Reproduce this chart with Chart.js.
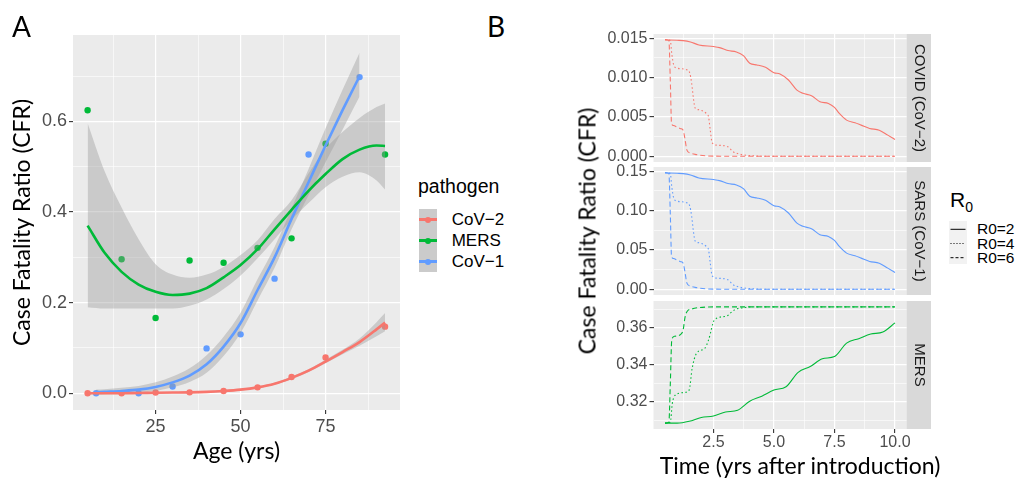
<!DOCTYPE html>
<html lang="en">
<head>
<meta charset="UTF-8" />
<title>Case fatality ratio by age and over time</title>
<script src="https://cdn.jsdelivr.net/npm/chart.js"></script>
<style>
  body { margin: 0; background: #fff; }
  #wrap { position: relative; width: 1020px; height: 484px; overflow: hidden;
          font-family: "Liberation Sans", Arial, sans-serif; }
  canvas { position: absolute; }
  .txt { position: absolute; white-space: nowrap; line-height: 1; color: #000; }
  .ttl { font-family: Lato, sans-serif; font-size: 23px; transform: translate(-50%, -50%); }
  .box { position: absolute; }
</style>
</head>
<body>
<div id="wrap">
  <canvas id="chartA" width="410" height="484" style="left:0;top:0"></canvas>
  <canvas id="chartB1" width="380" height="484" style="left:560px;top:0"></canvas>
  <canvas id="chartB2" width="380" height="484" style="left:560px;top:0"></canvas>
  <canvas id="chartB3" width="380" height="484" style="left:560px;top:0"></canvas>

  <div class="txt" style="left:12px;top:12px;font-family:Lato,sans-serif;font-size:28px">A</div>
  <div class="txt" style="left:487px;top:12px;font-family:Lato,sans-serif;font-size:28px">B</div>

  <!-- pathogen legend -->
  <div class="txt" style="left:418px;top:176.5px;font-size:19.5px">pathogen</div>
  <div class="box" style="left:419px;top:209px;width:18px;height:63px;background:#CBCBCB"></div>
  <div id="keysA"></div>

  <!-- R0 legend -->
  <div class="txt" style="left:950px;top:188.5px;font-size:21px">R<span style="font-size:14px;position:relative;top:5px">0</span></div>
  <div class="box" style="left:949px;top:220.5px;width:18px;height:43px;background:#F2F2F2"></div>
  <svg class="box" width="18" height="43" style="left:949px;top:220.5px">
    <line x1="1.5" x2="16.5" y1="8.3" y2="8.3" stroke="#000" stroke-width="1" />
    <line x1="1.5" x2="16.5" y1="22.5" y2="22.5" stroke="#000" stroke-width="1" stroke-dasharray="1 2" />
    <line x1="1.5" x2="16.5" y1="36.7" y2="36.7" stroke="#000" stroke-width="1" stroke-dasharray="3 2" />
  </svg>
  <div class="txt" style="left:977px;top:221.2px;font-size:15.5px">R0=2</div>
  <div class="txt" style="left:977px;top:235.5px;font-size:15.5px">R0=4</div>
  <div class="txt" style="left:977px;top:249.5px;font-size:15.5px">R0=6</div>

  <!-- shared titles of panel B -->
  <div class="txt ttl" style="left:587px;top:231.3px;transform:translate(-50%,-50%) rotate(-90deg)">Case Fatality Ratio (CFR)</div>
  <div class="txt ttl" style="left:800px;top:465px">Time (yrs after introduction)</div>
</div>

<script>
  // ---- Panel A: CFR by age ----
  const ageGroups = [5, 15, 25, 35, 45, 55, 65, 75, 92.5];
  const cfrCov2 = [0, 0, 0.0015, 0.002, 0.005, 0.013, 0.036, 0.079, 0.147];
  const cfrMers = [0.625, 0.296, 0.166, 0.293, 0.288, 0.321, 0.342, 0.551, 0.527];
  const ageGroupsCov1 = [7.5, 20, 30, 40, 50, 60, 70, 85];
  const cfrCov1 = [0, 0, 0.015, 0.099, 0.13, 0.253, 0.527, 0.698];

  // smoothed fits with their confidence bands
  const fitAge = [5, 10, 15, 20, 25, 30, 35, 40, 45, 50, 55, 60, 65, 70, 75, 80, 85, 90, 92.5];
  const fitCov2 = [0, 0, 0, 0.0005, 0.001, 0.0015, 0.002, 0.003, 0.005, 0.008, 0.013, 0.021, 0.034, 0.05, 0.07, 0.091, 0.113, 0.141, 0.156];
  const fitCov2Hi = [0.002, 0.002, 0.002, 0.002, 0.003, 0.003, 0.004, 0.005, 0.007, 0.01, 0.015, 0.023, 0.037, 0.053, 0.074, 0.096, 0.121, 0.157, 0.177];
  const fitCov2Lo = [-0.002, -0.002, -0.002, -0.001, -0.001, 0, 0, 0.001, 0.003, 0.006, 0.011, 0.019, 0.031, 0.047, 0.066, 0.086, 0.105, 0.126, 0.137];
  const fitMers = [0.37, 0.31, 0.268, 0.24, 0.224, 0.217, 0.22, 0.232, 0.256, 0.283, 0.318, 0.362, 0.405, 0.447, 0.484, 0.517, 0.538, 0.547, 0.546];
  const fitMersHi = [0.596, 0.49, 0.41, 0.34, 0.285, 0.262, 0.255, 0.262, 0.279, 0.305, 0.338, 0.385, 0.426, 0.485, 0.54, 0.577, 0.608, 0.632, 0.64];
  const fitMersLo = [0.19, 0.187, 0.187, 0.187, 0.187, 0.187, 0.193, 0.207, 0.23, 0.26, 0.298, 0.34, 0.383, 0.42, 0.455, 0.478, 0.488, 0.47, 0.45];
  const fitAgeCov1 = [7.5, 10, 15, 20, 25, 30, 35, 40, 45, 50, 55, 60, 65, 70, 75, 80, 85];
  const fitCov1 = [0.002, 0.003, 0.005, 0.008, 0.014, 0.024, 0.039, 0.064, 0.103, 0.155, 0.228, 0.3, 0.385, 0.466, 0.547, 0.625, 0.7];
  const fitCov1Hi = [0.008, 0.009, 0.012, 0.016, 0.024, 0.037, 0.055, 0.084, 0.125, 0.178, 0.252, 0.323, 0.408, 0.495, 0.585, 0.67, 0.752];
  const fitCov1Lo = [-0.003, -0.002, -0.001, 0.001, 0.005, 0.013, 0.025, 0.045, 0.082, 0.133, 0.205, 0.277, 0.362, 0.437, 0.51, 0.582, 0.655];

  const ageTicks = [12.5, 25, 37.5, 50, 62.5, 75, 87.5];
  const ageLabels = ['', '25', '', '50', '', '75', ''];
  const cfrTicksA = [0, 0.1, 0.2, 0.3, 0.4, 0.5, 0.6, 0.7];
  const cfrLabelsA = ['0.0', '', '0.2', '', '0.4', '', '0.6', ''];

  const pathogens = ['CoV\u22122', 'MERS', 'CoV\u22121'];
  const pathogenColors = ['#F8766D', '#00BA38', '#619CFF'];

  // ---- Panel B: CFR over time, by R0 ----
  const tR2 = [0.5, 1.0, 1.25, 1.55, 1.9, 2.5, 2.75, 3.1, 3.45, 3.75, 4.0, 4.3, 4.65, 5.0, 5.25, 5.6, 5.95, 6.2, 6.55, 6.9, 7.25, 7.5, 7.7, 8.0, 8.35, 8.6, 8.95, 9.35, 9.7, 10.0];
  const covidR2 = [0.0148, 0.01474, 0.0147, 0.01453, 0.01415, 0.01394, 0.01381, 0.01343, 0.01326, 0.01275, 0.01181, 0.0116, 0.0113, 0.01062, 0.01045, 0.00969, 0.00841, 0.00799, 0.00769, 0.00693, 0.00671, 0.0062, 0.00544, 0.00459, 0.00425, 0.00395, 0.00353, 0.00331, 0.00268, 0.00212];
  const sarsR2 = [0.148, 0.1474, 0.147, 0.1453, 0.1415, 0.1394, 0.1381, 0.1343, 0.1326, 0.1275, 0.1181, 0.116, 0.113, 0.1062, 0.1045, 0.0969, 0.0841, 0.0799, 0.0769, 0.0693, 0.0671, 0.062, 0.0544, 0.0459, 0.0425, 0.0395, 0.0353, 0.0331, 0.0268, 0.0212];
  const tMersR2 = [0.5, 1.0, 1.5, 2.0, 2.5, 3.0, 3.5, 4.0, 4.5, 5.0, 5.5, 6.0, 6.5, 7.0, 7.5, 8.0, 8.5, 9.0, 9.5, 10.0];
  const mersR2 = [0.3085, 0.3085, 0.3095, 0.3116, 0.3124, 0.3145, 0.3155, 0.3204, 0.3231, 0.3264, 0.3282, 0.336, 0.3391, 0.3433, 0.3445, 0.3518, 0.3542, 0.3567, 0.3578, 0.3627];

  const tR4 = [0.5, 0.72, 0.78, 0.86, 1.0, 1.4, 1.52, 1.6, 1.68, 1.75, 1.9, 2.22, 2.3, 2.37, 2.45, 2.65, 3.1, 3.3, 3.6, 4.0, 4.5, 10.0];
  const covidR4 = [0.0148, 0.0147, 0.013, 0.0116, 0.0112, 0.011, 0.0106, 0.0093, 0.0072, 0.0061, 0.0059, 0.0054, 0.005, 0.0033, 0.0017, 0.0014, 0.0012, 0.0006, 0.00025, 0.00008, 0, 0];
  const sarsR4 = [0.148, 0.147, 0.13, 0.116, 0.112, 0.11, 0.106, 0.093, 0.072, 0.061, 0.059, 0.054, 0.05, 0.033, 0.017, 0.014, 0.012, 0.006, 0.0025, 0.0008, 0, 0];
  const tMersR4 = [0.5, 0.72, 0.8, 0.92, 1.3, 1.5, 1.62, 1.8, 2.15, 2.3, 2.55, 3.05, 3.2, 3.4, 3.75, 4.1, 10.0];
  const mersR4 = [0.3085, 0.309, 0.319, 0.3236, 0.3251, 0.3265, 0.338, 0.3462, 0.3491, 0.3535, 0.3645, 0.3664, 0.368, 0.37, 0.3709, 0.3714, 0.3714];

  const tR6 = [0.5, 0.66, 0.72, 0.77, 0.85, 1.0, 1.15, 1.25, 1.33, 1.4, 1.54, 1.8, 2.2, 3.0, 10.0];
  const covidR6 = [0.0148, 0.0147, 0.0095, 0.0042, 0.0039, 0.0037, 0.0035, 0.0033, 0.0021, 0.0008, 0.0004, 0.0002, 0.00004, 0, 0];
  const sarsR6 = [0.148, 0.147, 0.095, 0.042, 0.039, 0.037, 0.035, 0.033, 0.021, 0.008, 0.004, 0.002, 0.0004, 0, 0];
  const tMersR6 = [0.5, 0.66, 0.72, 0.78, 0.9, 1.15, 1.25, 1.33, 1.42, 1.6, 1.9, 2.3, 3.0, 10.0];
  const mersR6 = [0.3085, 0.309, 0.33, 0.3536, 0.3555, 0.3565, 0.359, 0.366, 0.369, 0.3702, 0.371, 0.3713, 0.3714, 0.3714];

  const timeTicks = [1.25, 2.5, 3.75, 5, 6.25, 7.5, 8.75, 10];
  const timeLabels = ['', '2.5', '', '5.0', '', '7.5', '', '10.0'];
  const covidTicks = [0, 0.0025, 0.005, 0.0075, 0.01, 0.0125, 0.015];
  const covidLabels = ['0.000', '', '0.005', '', '0.010', '', '0.015'];
  const sarsTicks = [0, 0.025, 0.05, 0.075, 0.1, 0.125, 0.15];
  const sarsLabels = ['0.00', '', '0.05', '', '0.10', '', '0.15'];
  const mersTicks = [0.31, 0.32, 0.33, 0.34, 0.35, 0.36, 0.37];
  const mersLabels = ['', '0.32', '', '0.34', '', '0.36', ''];

  Chart.defaults.font.family = '"Liberation Sans", Arial, sans-serif';
  Chart.defaults.color = '#4D4D4D';

  const pts = (xs, ys) => xs.map((x, i) => ({ x: x, y: ys[i] }));

  // grey panel + strip backgrounds, like ggplot's theme_grey
  const panelBg = {
    id: 'panelBg',
    beforeDraw(chart) {
      const { ctx, chartArea: a } = chart;
      ctx.save();
      ctx.fillStyle = '#EBEBEB';
      ctx.fillRect(a.left, a.top, a.right - a.left, a.bottom - a.top);
      const s = chart.scales.strip;
      if (s) {
        ctx.fillStyle = '#D9D9D9';
        ctx.fillRect(s.left, a.top, s.right - s.left, a.bottom - a.top);
      }
      ctx.restore();
    }
  };

  // axis with major + minor white grid lines
  function axis(vals, labels, fontSize, extra) {
    return Object.assign({
      type: 'linear',
      afterBuildTicks: (s) => { s.ticks = vals.map((v) => ({ value: v })); },
      border: { display: false },
      grid: {
        color: '#FFFFFF',
        lineWidth: (c) => (labels[c.index] ? 1.2 : 0.6),
        tickColor: (c) => (labels[c.index] ? '#333333' : 'rgba(0,0,0,0)'),
        tickLength: 4,
        tickWidth: 1.1
      },
      ticks: {
        autoSkip: false,
        maxRotation: 0,
        padding: 2,
        color: '#4D4D4D',
        font: { size: fontSize },
        callback: (v, i) => labels[i]
      }
    }, extra);
  }

  // ---- chart A ----
  const dsA = [];
  const bandFill = 'rgba(153,153,153,0.4)';
  // points first (drawn underneath)
  [[ageGroups, cfrCov2], [ageGroups, cfrMers], [ageGroupsCov1, cfrCov1]].forEach((d, k) => {
    dsA.push({ label: pathogens[k], data: pts(d[0], d[1]), showLine: false, pointRadius: 3.2,
      pointBackgroundColor: pathogenColors[k], pointBorderWidth: 0, order: 3 });
  });
  // confidence bands
  [[fitAge, fitCov2Hi, fitCov2Lo], [fitAge, fitMersHi, fitMersLo], [fitAgeCov1, fitCov1Hi, fitCov1Lo]].forEach((d) => {
    dsA.push({ data: pts(d[0], d[1]), fill: '+1', backgroundColor: bandFill, borderWidth: 0,
      borderColor: 'rgba(0,0,0,0)', pointRadius: 0, cubicInterpolationMode: 'monotone', order: 2 });
    dsA.push({ data: pts(d[0], d[2]), fill: false, borderWidth: 0,
      borderColor: 'rgba(0,0,0,0)', pointRadius: 0, cubicInterpolationMode: 'monotone', order: 2 });
  });
  // fitted lines
  [[fitAge, fitCov2], [fitAge, fitMers], [fitAgeCov1, fitCov1]].forEach((d, k) => {
    dsA.push({ data: pts(d[0], d[1]), borderColor: pathogenColors[k], borderWidth: 2.6,
      pointRadius: 0, fill: false, cubicInterpolationMode: 'monotone', order: 1 });
  });

  new Chart(document.getElementById('chartA'), {
    type: 'line',
    data: { datasets: dsA },
    options: {
      responsive: false,
      animation: false,
      layout: { padding: { top: 35, right: 10, bottom: 0, left: 0 } },
      plugins: { legend: { display: false }, tooltip: { enabled: false } },
      scales: {
        x: axis(ageTicks, ageLabels, 18, {
          min: 0.7, max: 96.9,
          afterFit: (s) => { s.height = 74; },
          title: { display: true, text: 'Age (yrs)', color: '#000',
            font: { family: 'Lato', size: 23 }, padding: { top: 0, bottom: 18.4 } }
        }),
        y: axis(cfrTicksA, cfrLabelsA, 18, {
          min: -0.037, max: 0.791,
          afterFit: (s) => { s.width = 73; },
          title: { display: true, text: 'Case Fatality Ratio (CFR)', color: '#000',
            font: { family: 'Lato', size: 23 }, padding: { top: 8.5, bottom: 0 } }
        })
      }
    },
    plugins: [panelBg]
  });

  // pathogen legend keys
  const keyCenters = [219.5, 240.5, 261.5];
  const keysA = document.getElementById('keysA');
  pathogens.forEach((name, k) => {
    const cy = keyCenters[k];
    keysA.insertAdjacentHTML('beforeend',
      '<div class="box" style="left:419px;top:' + (cy - 1.3) + 'px;width:18px;height:2.6px;background:' + pathogenColors[k] + '"></div>' +
      '<div class="box" style="left:425px;top:' + (cy - 3) + 'px;width:6px;height:6px;border-radius:50%;background:' + pathogenColors[k] + '"></div>' +
      '<div class="txt" style="left:451.7px;top:' + (cy - 8.3) + 'px;font-size:17px">' + name + '</div>');
  });

  // ---- chart B facets ----
  function facet(id, padTop, padBottom, color, series, yVals, yLabels, yMin, yMax, stripText, showX) {
    const dashes = [[], [1.5, 2.5], [5, 3]];
    const datasets = series.map((s, k) => ({
      data: pts(s[0], s[1]), borderColor: color, borderWidth: 1.1, borderDash: dashes[k],
      pointRadius: 0, fill: false, cubicInterpolationMode: 'monotone'
    }));
    const xAxis = axis(timeTicks, timeLabels, 16, {
      min: 0.025, max: 10.475,
      afterFit: (s) => { s.height = showX ? 55 : 0; }
    });
    if (!showX) {
      xAxis.ticks.display = false;
      xAxis.grid.drawTicks = false;
    } else {
      xAxis.ticks.padding = 0;
    }
    new Chart(document.getElementById(id), {
      type: 'line',
      data: { datasets: datasets },
      options: {
        responsive: false,
        animation: false,
        layout: { padding: { top: padTop, right: 9, bottom: padBottom, left: 0 } },
        plugins: { legend: { display: false }, tooltip: { enabled: false } },
        scales: {
          x: xAxis,
          y: axis(yVals, yLabels, 16, {
            min: yMin, max: yMax,
            afterFit: (s) => { s.width = 93.5; }
          }),
          strip: {
            type: 'linear', position: 'right', min: 0, max: 1,
            grid: { display: false }, border: { display: false },
            ticks: { display: false },
            afterFit: (s) => { s.width = 24.5; },
            title: { display: true, text: stripText, color: '#1A1A1A',
              font: { size: 15 }, padding: { top: 3.3, bottom: 0 } }
          }
        }
      },
      plugins: [panelBg]
    });
  }

  facet('chartB1', 34, 322, pathogenColors[0],
    [[tR2, covidR2], [tR4, covidR4], [tR6, covidR6]],
    covidTicks, covidLabels, -0.00074, 0.01554, 'COVID (CoV\u22122)', false);
  facet('chartB2', 167, 189, pathogenColors[2],
    [[tR2, sarsR2], [tR4, sarsR4], [tR6, sarsR6]],
    sarsTicks, sarsLabels, -0.0074, 0.1554, 'SARS (CoV\u22121)', false);
  facet('chartB3', 301, 0, pathogenColors[1],
    [[tMersR2, mersR2], [tMersR4, mersR4], [tMersR6, mersR6]],
    mersTicks, mersLabels, 0.30535, 0.37455, 'MERS', true);
</script>
</body>
</html>
